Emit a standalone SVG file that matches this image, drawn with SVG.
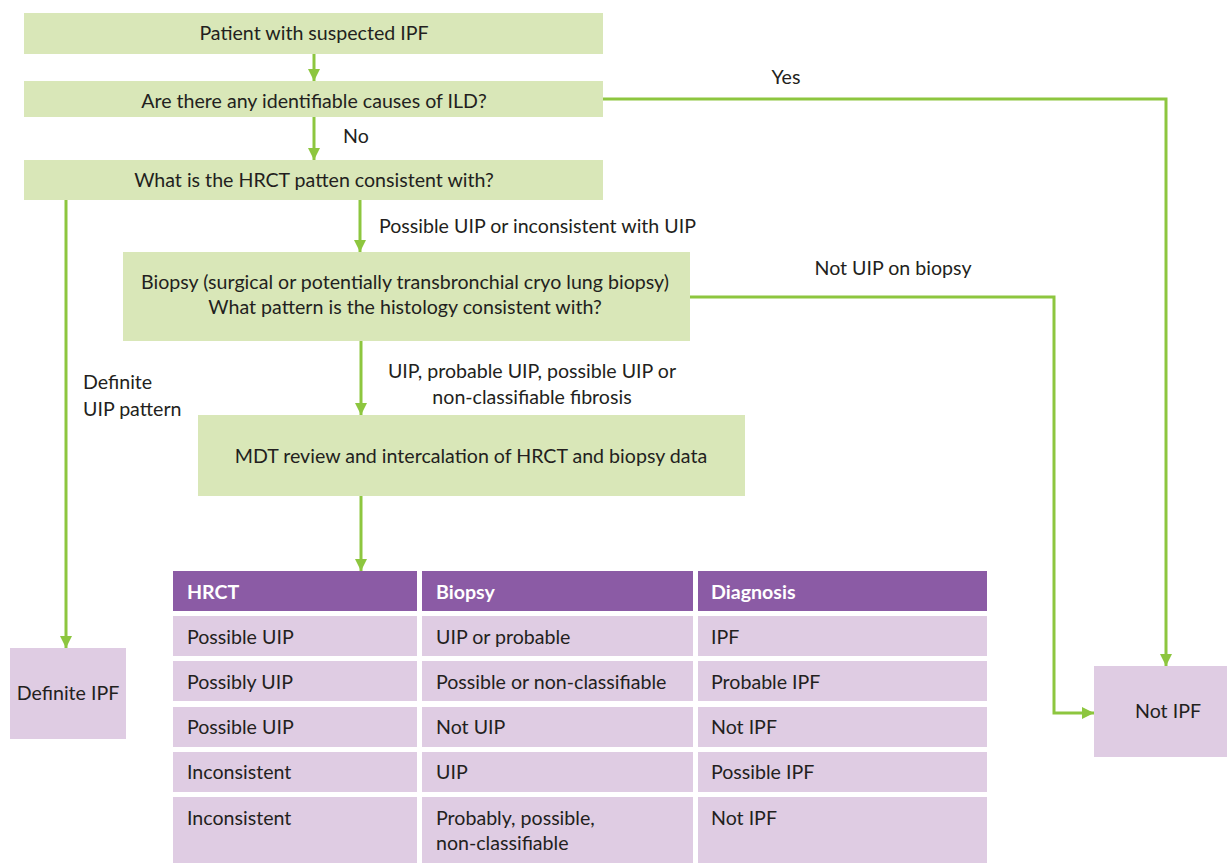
<svg xmlns="http://www.w3.org/2000/svg" width="1227" height="863" viewBox="0 0 1227 863">
<style>
text{font-family:Lato,"Liberation Sans",sans-serif;font-size:19.6px;fill:#231F20}
.c{text-anchor:middle}
.g{fill:#D9E7B8}
.p{fill:#DFCCE3}
.h{fill:#8B5BA5}
.ht{fill:#FFFFFF;font-weight:bold}
.ln{fill:none;stroke:#8DC63F;stroke-width:3}
</style>
<defs>
<marker id="ah" markerUnits="userSpaceOnUse" markerWidth="12" markerHeight="12" refX="12" refY="6" orient="auto">
<path d="M0,0 L12,6 L0,12 z" fill="#8DC63F"/>
</marker>
</defs>
<rect width="1227" height="863" fill="#FFFFFF"/>
<g id="connectors">
<path class="ln" d="M314,54 V81" marker-end="url(#ah)"/>
<path class="ln" d="M314,117 V160" marker-end="url(#ah)"/>
<path class="ln" d="M603,99 H1166 V666" marker-end="url(#ah)"/>
<path class="ln" d="M360,200 V252" marker-end="url(#ah)"/>
<path class="ln" d="M66,200 V648" marker-end="url(#ah)"/>
<path class="ln" d="M690,297 H1054 V713 H1094" marker-end="url(#ah)"/>
<path class="ln" d="M361,341 V415" marker-end="url(#ah)"/>
<path class="ln" d="M361,496 V571" marker-end="url(#ah)"/>
<text x="786" y="84" class="c">Yes</text>
<text x="343" y="143">No</text>
<text x="379" y="233">Possible UIP or inconsistent with UIP</text>
<text x="893" y="275" class="c">Not UIP on biopsy</text>
<text x="532" y="378" class="c">UIP, probable UIP, possible UIP or</text>
<text x="532" y="404" class="c">non-classifiable fibrosis</text>
<text x="83" y="389">Definite</text>
<text x="83" y="416">UIP pattern</text>
</g>
<g id="n1"><rect class="g" x="24" y="13" width="579" height="41"/><text x="314" y="40" class="c">Patient with suspected IPF</text></g>
<g id="n2"><rect class="g" x="24" y="81" width="579" height="36"/><text x="314" y="108" class="c">Are there any identifiable causes of ILD?</text></g>
<g id="n3"><rect class="g" x="24" y="160" width="579" height="40"/><text x="314" y="187" class="c">What is the HRCT patten consistent with?</text></g>
<g id="n4"><rect class="g" x="123" y="252" width="567" height="89"/><text x="405" y="289" class="c">Biopsy (surgical or potentially transbronchial cryo lung biopsy)</text><text x="405" y="314" class="c">What pattern is the histology consistent with?</text></g>
<g id="n5"><rect class="g" x="198" y="415" width="547" height="81"/><text x="471" y="463" class="c">MDT review and intercalation of HRCT and biopsy data</text></g>
<g id="n6"><rect class="p" x="10" y="648" width="116" height="91"/><text x="68" y="700" class="c">Definite IPF</text></g>
<g id="n7"><rect class="p" x="1094" y="666" width="133" height="91"/><text x="1168" y="718" class="c">Not IPF</text></g>
<g id="table">
<rect class="h" x="173" y="571" width="244" height="40"/>
<rect class="h" x="422" y="571" width="271" height="40"/>
<rect class="h" x="698" y="571" width="289" height="40"/>
<text x="187" y="599" class="ht">HRCT</text>
<text x="436" y="599" class="ht">Biopsy</text>
<text x="711" y="599" class="ht">Diagnosis</text>
<rect class="p" x="173" y="616" width="244" height="40"/><rect class="p" x="422" y="616" width="271" height="40"/><rect class="p" x="698" y="616" width="289" height="40"/>
<text x="187" y="644">Possible UIP</text><text x="436" y="644">UIP or probable</text><text x="711" y="644">IPF</text>
<rect class="p" x="173" y="661" width="244" height="40"/><rect class="p" x="422" y="661" width="271" height="40"/><rect class="p" x="698" y="661" width="289" height="40"/>
<text x="187" y="689">Possibly UIP</text><text x="436" y="689">Possible or non-classifiable</text><text x="711" y="689">Probable IPF</text>
<rect class="p" x="173" y="707" width="244" height="40"/><rect class="p" x="422" y="707" width="271" height="40"/><rect class="p" x="698" y="707" width="289" height="40"/>
<text x="187" y="734">Possible UIP</text><text x="436" y="734">Not UIP</text><text x="711" y="734">Not IPF</text>
<rect class="p" x="173" y="752" width="244" height="40"/><rect class="p" x="422" y="752" width="271" height="40"/><rect class="p" x="698" y="752" width="289" height="40"/>
<text x="187" y="779">Inconsistent</text><text x="436" y="779">UIP</text><text x="711" y="779">Possible IPF</text>
<rect class="p" x="173" y="797" width="244" height="66"/><rect class="p" x="422" y="797" width="271" height="66"/><rect class="p" x="698" y="797" width="289" height="66"/>
<text x="187" y="825">Inconsistent</text><text x="436" y="825">Probably, possible,</text><text x="436" y="850">non-classifiable</text><text x="711" y="825">Not IPF</text>
</g>
</svg>
